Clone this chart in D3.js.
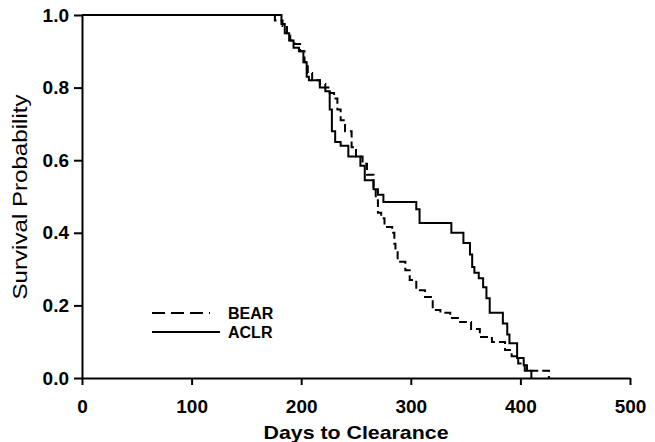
<!DOCTYPE html>
<html>
<head>
<meta charset="utf-8">
<script src="https://cdn.jsdelivr.net/npm/d3@7"></script>
<style>
  body { margin: 0; background: #fff; }
  svg { display: block; }
  .axis text { font-family: Arial, "Liberation Sans", sans-serif; font-weight: bold; font-size: 19px; fill: #000; }
  .axis path, .axis line { stroke: #000; stroke-width: 2; }
</style>
</head>
<body>
<div id="chart"></div>
<script>
// Kaplan-Meier step data (days, survival after event)
var aclrDays = [0, 182, 185, 189, 193, 198, 202, 205, 207, 217, 222, 226, 228, 231, 236, 243, 254, 258, 266, 270, 275, 305, 308, 337, 348, 354, 356, 358, 362, 366, 369, 372, 384, 388, 390, 397, 403, 406, 410]
var aclrSurv = [1.0, 0.975, 0.95, 0.93, 0.91, 0.90, 0.87, 0.83, 0.82, 0.80, 0.79, 0.74, 0.68, 0.65, 0.64, 0.61, 0.585, 0.545, 0.52, 0.505, 0.485, 0.465, 0.427, 0.40, 0.372, 0.34, 0.306, 0.29, 0.275, 0.25, 0.22, 0.18, 0.15, 0.12, 0.096, 0.055, 0.035, 0.02, 0.0]

var bearDays = [0, 176, 183, 187, 190, 194, 199, 203, 206, 210, 217, 222, 226, 230, 233, 236, 240, 246, 250, 256, 260, 266, 268, 270, 273, 276, 283, 285, 286, 288, 295, 299, 305, 313, 320, 327, 336, 345, 355, 363, 374, 386, 392, 398, 404, 426]
var bearSurv = [1.0, 0.985, 0.97, 0.95, 0.93, 0.92, 0.90, 0.87, 0.84, 0.82, 0.81, 0.80, 0.785, 0.77, 0.74, 0.71, 0.68, 0.636, 0.61, 0.59, 0.56, 0.526, 0.49, 0.455, 0.44, 0.416, 0.40, 0.37, 0.353, 0.32, 0.297, 0.27, 0.242, 0.223, 0.187, 0.18, 0.165, 0.154, 0.135, 0.113, 0.099, 0.077, 0.06, 0.04, 0.02, 0.0]

var xTicks = [0, 100, 200, 300, 400, 500]
var yTicks = [0, 0.2, 0.4, 0.6, 0.8, 1.0]
var seriesNames = ['BEAR', 'ACLR']

var width = 655
var height = 442

var svg = d3.select('#chart').append('svg')
  .attr('width', width)
  .attr('height', height)

var x = d3.scaleLinear().domain([0, 500]).range([82, 630])
var y = d3.scaleLinear().domain([0, 1]).range([378, 15])

// axes
svg.append('g')
  .attr('class', 'axis')
  .attr('transform', 'translate(0,378)')
  .call(d3.axisBottom(x).tickValues(xTicks).tickSize(7).tickSizeOuter(0).tickPadding(15))

svg.append('g')
  .attr('class', 'axis')
  .attr('transform', 'translate(82,0)')
  .call(d3.axisLeft(y).tickValues(yTicks).tickFormat(d3.format('.1f')).tickSize(8).tickSizeOuter(0).tickPadding(5))

// curves
var line = d3.line()
  .x(function (d) { return x(d[0]) })
  .y(function (d) { return y(d[1]) })
  .curve(d3.curveStepAfter)

svg.append('path')
  .datum(d3.zip(aclrDays, aclrSurv))
  .attr('d', line)
  .attr('fill', 'none')
  .attr('stroke', '#000')
  .attr('stroke-width', 2)

svg.append('path')
  .datum(d3.zip(bearDays, bearSurv))
  .attr('d', line)
  .attr('fill', 'none')
  .attr('stroke', '#000')
  .attr('stroke-width', 2)
  .attr('stroke-dasharray', '8,4')

// legend
var legend = svg.append('g')
legend.append('line')
  .attr('x1', 152).attr('x2', 210).attr('y1', 313).attr('y2', 313)
  .attr('stroke', '#000').attr('stroke-width', 2).attr('stroke-dasharray', '13,6')
legend.append('line')
  .attr('x1', 152).attr('x2', 220).attr('y1', 332).attr('y2', 332)
  .attr('stroke', '#000').attr('stroke-width', 2)
legend.selectAll('text')
  .data(seriesNames)
  .enter()
  .append('text')
  .attr('x', 228)
  .attr('y', function (d, i) { return 319 + i * 19 })
  .attr('font-family', 'Arial, "Liberation Sans", sans-serif')
  .attr('font-weight', 'bold')
  .attr('font-size', 16)
  .text(function (d) { return d })

// axis titles
svg.append('text')
  .attr('x', 356)
  .attr('y', 439)
  .attr('text-anchor', 'middle')
  .attr('font-family', 'Arial, "Liberation Sans", sans-serif')
  .attr('font-weight', 'bold')
  .attr('font-size', 19)
  .attr('textLength', 185)
  .attr('lengthAdjust', 'spacingAndGlyphs')
  .text('Days to Clearance')

svg.append('text')
  .attr('transform', 'translate(27,197) rotate(-90)')
  .attr('text-anchor', 'middle')
  .attr('font-family', 'Arial, "Liberation Sans", sans-serif')
  .attr('font-size', 20)
  .attr('textLength', 205)
  .attr('lengthAdjust', 'spacingAndGlyphs')
  .text('Survival Probability')
</script>
</body>
</html>
